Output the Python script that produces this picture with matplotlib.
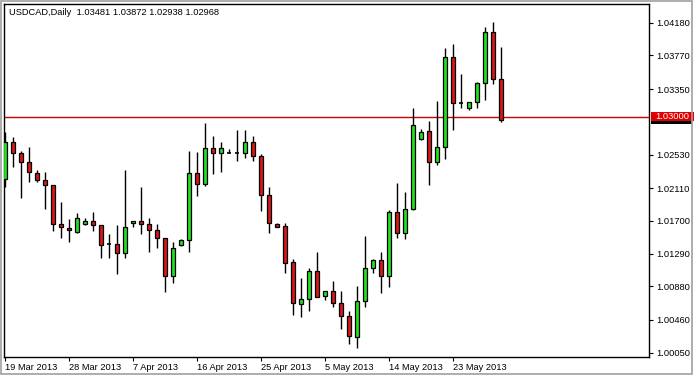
import matplotlib
matplotlib.use('Agg')
import matplotlib.pyplot as plt
import matplotlib.transforms as mtransforms
from matplotlib.patches import Rectangle
import numpy as np

plt.rcParams['font.family'] = ['Liberation Sans', 'DejaVu Sans']

title = "USDCAD,Daily  1.03481 1.03872 1.02938 1.02968"
date_labels = ["19 Mar 2013", "28 Mar 2013", "7 Apr 2013", "16 Apr 2013",
               "25 Apr 2013", "5 May 2013", "14 May 2013", "23 May 2013"]
date_label_idx = [0, 8, 16, 24, 32, 40, 48, 56]
price_ticks = [1.04180, 1.03770, 1.03350, 1.02530, 1.02110, 1.01700,
               1.01290, 1.00880, 1.00460, 1.00050]
bid_line = 1.03000

opens = [1.02220, 1.02683, 1.02546, 1.02433, 1.02299, 1.02215, 1.02145, 1.01657, 1.01614, 1.01564,
         1.01657, 1.01698, 1.01645, 1.01410, 1.01406, 1.01294, 1.01670, 1.01695, 1.01657, 1.01582,
         1.01482, 1.01006, 1.01402, 1.01457, 1.02299, 1.02165, 1.02608, 1.02546, 1.02553, 1.02553,
         1.02546, 1.02683, 1.02508, 1.02020, 1.01661, 1.01632, 1.01181, 1.00656, 1.00718, 1.01070,
         1.00757, 1.00820, 1.00668, 1.00510, 1.00250, 1.00693, 1.01106, 1.01210, 1.01004, 1.01815,
         1.01544, 1.01845, 1.02721, 1.02825, 1.02433, 1.02621, 1.03747, 1.03181, 1.03116, 1.03184,
         1.03422, 1.04060, 1.03481]
highs = [1.02816, 1.02746, 1.02574, 1.02628, 1.02337, 1.02315, 1.02150, 1.01940, 1.01723, 1.01798,
         1.01732, 1.01811, 1.01649, 1.01536, 1.01649, 1.02337, 1.01697, 1.02124, 1.01736, 1.01661,
         1.01485, 1.01432, 1.01469, 1.02578, 1.02562, 1.02925, 1.02766, 1.02687, 1.02599, 1.02833,
         1.02837, 1.02762, 1.02537, 1.02120, 1.01670, 1.01670, 1.01219, 1.00981, 1.01106, 1.01307,
         1.00820, 1.00947, 1.00819, 1.00572, 1.00879, 1.01514, 1.01219, 1.01307, 1.01836, 1.02170,
         1.02057, 1.03116, 1.02846, 1.02950, 1.03200, 1.03867, 1.03910, 1.03538, 1.03191, 1.03442,
         1.04122, 1.04193, 1.03872]
lows = [1.02128, 1.02370, 1.01990, 1.02183, 1.02190, 1.01852, 1.01569, 1.01482, 1.01439, 1.01552,
        1.01653, 1.01577, 1.01231, 1.01231, 1.01031, 1.01239, 1.01627, 1.01536, 1.01314, 1.01364,
        1.00813, 1.00919, 1.01389, 1.01314, 1.02015, 1.02140, 1.02283, 1.02308, 1.02546, 1.02453,
        1.02483, 1.02445, 1.01827, 1.01552, 1.01619, 1.01051, 1.00526, 1.00493, 1.00566, 1.00743,
        1.00705, 1.00616, 1.00343, 1.00155, 1.00115, 1.00616, 1.01044, 1.00803, 1.00876, 1.01489,
        1.01469, 1.01836, 1.02708, 1.02149, 1.02399, 1.02474, 1.02837, 1.03109, 1.03087, 1.03109,
        1.03213, 1.03413, 1.02938]
closes = [1.02683, 1.02546, 1.02433, 1.02308, 1.02215, 1.02145, 1.01657, 1.01619, 1.01582, 1.01732,
          1.01698, 1.01645, 1.01402, 1.01410, 1.01294, 1.01619, 1.01695, 1.01657, 1.01582, 1.01482,
          1.01006, 1.01357, 1.01460, 1.02299, 1.02165, 1.02608, 1.02546, 1.02608, 1.02553, 1.02553,
          1.02683, 1.02508, 1.02020, 1.01670, 1.01627, 1.01169, 1.00668, 1.00718, 1.01070, 1.00751,
          1.00820, 1.00668, 1.00506, 1.00253, 1.00697, 1.01106, 1.01210, 1.01004, 1.01815, 1.01544,
          1.01845, 1.02900, 1.02808, 1.02433, 1.02621, 1.03747, 1.03179, 1.03181, 1.03184, 1.03422,
          1.04060, 1.03472, 1.02968]

W, H = 694, 376
fig = plt.figure(figsize=(W / 100, H / 100), dpi=100)
fig.patch.set_facecolor('white')
ax = fig.add_axes([4 / W, (H - 356.7) / H, 645 / W, 352.7 / H])

o = np.array(opens); c = np.array(closes)
hi = np.array(highs); lo = np.array(lows)
x = np.arange(len(o))

GREEN = '#22e022'
RED = '#d81818'

ax.vlines(x, lo, hi, color='black', lw=1.0, zorder=2)
up = c > o
dn = c < o
dj = c == o
ax.bar(x[up], (c - o)[up], bottom=o[up], width=0.62, color=GREEN,
       edgecolor='black', linewidth=0.9, zorder=3)
ax.bar(x[dn], (o - c)[dn], bottom=c[dn], width=0.62, color=RED,
       edgecolor='black', linewidth=0.9, zorder=3)
ax.hlines(o[dj], x[dj] - 0.31, x[dj] + 0.31, color='black', lw=1.2, zorder=3)

ax.axhline(bid_line, color='#d00000', lw=1.0, zorder=1)

ax.set_xlim(-0.125, 80.5)
ax.set_ylim(1.00000, 1.04414)

ax.yaxis.tick_right()
ax.set_yticks(price_ticks)
ax.set_yticklabels(['%.5f' % v for v in price_ticks])
ax.tick_params(axis='y', direction='out', length=3, width=0.8, pad=2.5,
               labelsize=6.7, colors='black')
ax.set_xticks(date_label_idx)
ax.set_xticklabels(date_labels, ha='left')
ax.tick_params(axis='x', direction='out', length=3, width=0.8, pad=1.5,
               labelsize=6.7, colors='black')
for s in ax.spines.values():
    s.set_color('black')
    s.set_linewidth(1.0)

trans = mtransforms.blended_transform_factory(ax.transAxes, ax.transData)
ax.add_patch(Rectangle((1 + 1.7 / 645, 1.02913), 41 / 645, 0.00041, transform=trans,
                       facecolor='black', edgecolor='none', clip_on=False, zorder=5))
ax.add_patch(Rectangle((1 + 1.7 / 645, 1.02954), 44 / 645, 0.00112, transform=trans,
                       facecolor='#e00000', edgecolor='none', clip_on=False, zorder=6))
ax.text(1 + 6 / 645, 1.03010, '%.5f' % bid_line, transform=trans, color='white',
        fontsize=6.7, ha='left', va='center', clip_on=False, zorder=7)

fig.text(9.3 / W, 1 - 12.7 / H, title, ha='left', va='center', fontsize=6.7, color='black')

fig.patches.append(Rectangle((0.5 / W, (H - 373.5) / H), 691 / W, 373 / H,
                             transform=fig.transFigure, fill=False,
                             edgecolor='#a0a0a0', lw=1.2))

fig.savefig('out.png', dpi=100, facecolor='white')
